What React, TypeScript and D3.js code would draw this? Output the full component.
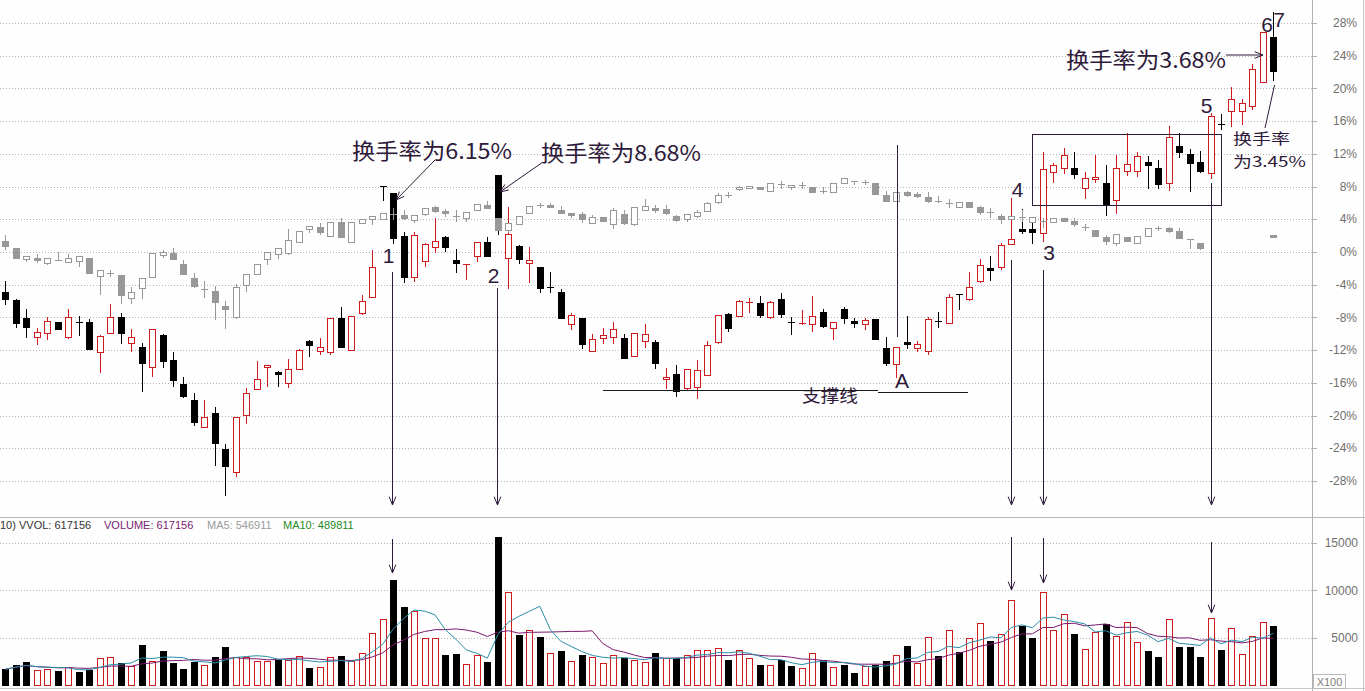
import React from 'react';
import * as d3 from 'd3';

// ---------- DATA (percent change for price; volume in x100 shares) ----------
const stockOpen = [
  -4.89,-5.87,-8.07,-10.43,-9.87,-8.60,-10.36,-8.50,-8.60,-12.27,
  -9.94,-7.99,-11.17,-11.66,-14.10,-10.15,-13.25,-16.14,-18.10,-21.44,
  -19.73,-24.13,-26.87,-19.97,-16.72,-14.01,-14.71,-16.06,-14.35,-10.88,
  -12.07,-12.19,-8.07,-11.99,-7.50,-5.54,8.07,7.18,1.96,-3.02,
  -1.06,0.57,1.80,-0.98,-1.63,-0.45,1.19,9.42,-0.77,0.73,
  -1.38,-1.87,-4.24,-4.93,-8.84,-8.11,-12.07,-10.55,-10.36,-10.55,
  -12.68,-10.85,-11.04,-15.57,-14.96,-16.67,-16.55,-15.04,-11.04,-7.58,
  -7.79,-6.27,-6.20,-7.95,-5.75,-8.60,-8.72,-8.84,-7.37,-9.33,
  -6.97,-8.44,-8.84,-8.19,-11.78,-13.73,-11.01,-11.70,-12.07,-8.38,
  -8.65,-5.17,-5.78,-3.55,-1.92,-1.87,0.94,2.81,2.78,2.29,
  9.82,10.24,10.24,7.79,8.93,8.48,6.36,9.91,9.91,10.97,
  10.24,8.40,13.00,11.95,10.97,9.63,15.59,17.24,17.24,17.89,
  20.75,26.26,
];
const stockHigh = [
  -3.55,-5.75,-6.97,-9.33,-7.99,-8.52,-6.97,-7.83,-8.23,-10.15,
  -6.40,-7.50,-9.42,-11.17,-9.45,-10.07,-12.23,-15.32,-17.28,-18.10,
  -18.99,-23.48,-20.22,-16.67,-13.33,-13.86,-14.55,-13.09,-11.86,-10.76,
  -10.52,-8.07,-6.73,-7.79,-5.26,0.24,8.07,7.22,2.48,2.41,
  1.14,4.12,1.96,0.37,-1.50,1.19,1.80,9.42,5.47,0.86,
  0.57,-1.87,-2.41,-4.56,-7.50,-8.11,-10.03,-9.33,-8.52,-10.03,
  -9.94,-8.81,-10.76,-14.22,-13.82,-14.31,-13.21,-10.85,-7.74,-7.42,
  -5.87,-5.66,-5.38,-6.03,-5.05,-7.91,-7.09,-5.38,-7.01,-8.60,
  -6.69,-8.11,-8.11,-8.19,-10.36,-11.58,-7.83,-10.88,-7.91,-7.37,
  -5.14,-5.17,-2.41,-0.89,-0.49,1.14,6.57,5.22,3.67,12.19,
  10.85,12.68,12.19,9.82,11.86,10.64,11.86,14.59,12.27,11.78,
  11.25,15.45,14.59,12.60,12.35,17.04,16.84,20.22,18.68,22.99,
  26.87,29.32,
];
const stockLow = [
  -6.36,-9.17,-10.36,-11.29,-10.60,-9.45,-10.48,-10.15,-11.83,-14.64,
  -9.94,-11.09,-12.07,-16.96,-15.17,-14.03,-16.35,-17.70,-21.16,-21.44,
  -26.05,-29.68,-27.36,-20.88,-16.79,-16.35,-16.35,-16.55,-14.35,-12.68,
  -12.47,-12.47,-11.58,-11.99,-7.62,-5.54,6.36,1.06,-3.71,-3.51,
  -1.68,0.04,0.16,-2.41,-3.34,-1.06,-0.45,2.16,-4.44,-1.31,
  -3.63,-4.86,-4.86,-8.11,-9.45,-11.78,-12.07,-11.17,-11.17,-12.93,
  -12.68,-11.58,-14.15,-16.67,-17.57,-16.88,-17.89,-15.04,-11.17,-9.66,
  -7.79,-7.30,-7.91,-8.04,-7.91,-10.03,-8.84,-9.66,-9.14,-10.64,
  -8.65,-9.14,-9.42,-10.64,-13.82,-15.25,-11.70,-12.07,-12.51,-9.14,
  -8.65,-6.97,-5.87,-3.63,-3.42,-2.12,0.94,2.29,1.10,1.35,
  8.60,9.63,9.01,6.64,8.60,4.53,4.73,9.42,9.29,7.79,
  7.79,7.58,11.66,7.50,9.82,9.01,15.01,15.41,15.65,17.49,
  20.75,21.04,
];
const stockClose = [
  -5.78,-8.72,-9.14,-9.82,-8.48,-9.38,-7.99,-8.56,-11.83,-10.27,
  -7.99,-9.94,-10.40,-13.61,-9.45,-13.33,-15.65,-17.61,-20.75,-20.22,
  -23.32,-26.14,-20.22,-17.28,-15.57,-13.86,-14.96,-14.35,-11.99,-11.41,
  -11.66,-8.07,-11.58,-7.86,-6.03,-1.87,8.07,1.71,-3.02,2.08,
  0.94,1.35,0.65,-1.38,-1.50,1.19,-0.45,2.69,2.16,-0.89,
  -0.98,-4.44,-4.32,-8.11,-7.70,-11.29,-10.64,-10.15,-9.42,-12.93,
  -9.94,-10.03,-13.54,-15.32,-17.00,-14.31,-14.43,-11.37,-7.74,-9.26,
  -6.03,-6.12,-7.67,-6.12,-7.58,-8.68,-8.65,-7.79,-9.05,-8.60,
  -8.04,-8.72,-8.32,-10.64,-13.54,-11.58,-11.25,-11.29,-8.23,-8.48,
  -5.54,-5.26,-4.24,-1.59,-2.20,0.86,1.59,2.60,2.45,10.11,
  10.60,11.86,9.54,9.09,9.21,5.75,10.31,10.73,11.74,10.64,
  8.28,14.10,12.19,10.85,9.94,16.63,15.47,18.68,18.19,22.38,
  26.87,22.17,
];

const N = null;
const indexOpen = [
  1.35,0.45,-0.82,-0.70,-1.31,-1.02,-1.26,-1.10,-0.77,-2.94,
  -2.57,-2.81,-5.66,-4.44,-3.02,-0.37,-0.09,-1.47,-3.22,-4.56,
  -4.73,-6.60,-7.91,-4.07,-2.73,-0.86,-0.24,-0.16,1.19,2.81,
  3.09,1.96,3.63,1.19,3.51,4.00,4.00,4.61,4.53,3.91,
  4.65,5.47,5.01,4.44,4.12,5.14,5.75,4.12,2.69,3.39,
  4.73,5.75,5.75,5.14,4.73,4.61,3.58,4.32,3.42,4.61,
  3.39,5.14,5.42,5.22,4.40,4.00,4.40,5.01,6.08,6.85,
  7.67,7.86,7.99,7.50,8.32,7.91,8.19,7.99,7.50,7.30,
  8.40,8.72,8.60,8.40,6.97,6.27,7.37,7.09,6.76,6.27,
  6.03,5.54,6.15,5.54,4.93,4.44,4.00,4.32,3.71,3.79,
  3.63,4.12,3.79,3.09,2.69,1.87,1.14,1.87,1.06,1.96,
  2.97,2.90,2.57,1.55,1.06,N,N,N,N,N,
  N,2.08,
];
const indexHigh = [
  2.08,0.45,-0.49,-0.24,-0.73,0.04,-0.24,-0.53,-0.77,-2.24,
  -2.20,-2.81,-4.32,-3.14,-0.16,0.24,0.45,-0.98,-2.60,-3.55,
  -4.16,-5.96,-3.91,-2.73,-1.47,-0.04,0.45,2.81,2.60,3.22,
  3.51,3.63,4.12,3.63,4.00,4.40,4.73,5.34,5.14,4.53,
  5.34,5.63,5.26,5.14,4.93,5.87,6.27,4.12,3.51,4.40,
  5.66,6.03,5.96,5.63,4.73,4.93,4.53,4.32,5.34,5.14,
  5.54,6.48,5.75,5.75,4.53,4.61,5.14,6.15,7.18,7.37,
  8.07,8.11,7.99,8.40,8.68,8.19,8.52,7.99,7.91,8.40,
  9.01,8.72,8.81,8.40,7.50,7.30,7.50,7.37,7.37,6.85,
  6.45,6.15,6.15,5.63,5.42,4.65,4.40,5.14,4.24,4.12,
  4.12,4.12,4.12,3.42,2.69,2.08,2.16,1.87,1.96,2.90,
  3.18,3.09,2.90,1.55,1.14,N,N,N,N,N,
  N,2.08,
];
const indexLow = [
  0.33,-0.70,-1.10,-1.26,-1.50,-1.02,-1.26,-1.68,-2.53,-5.14,
  -2.94,-6.27,-6.27,-5.66,-3.02,-0.57,-0.86,-2.69,-4.32,-5.47,
  -8.23,-9.33,-8.04,-4.77,-2.73,-1.47,-0.70,-0.24,1.19,2.48,
  2.20,1.96,1.80,1.19,3.51,3.42,4.00,4.04,4.00,3.71,
  4.49,4.93,4.40,3.83,3.79,5.14,5.34,2.69,2.48,3.39,
  4.73,5.47,5.50,4.73,4.24,3.71,3.51,3.83,2.97,3.42,
  3.30,5.14,4.93,4.65,3.83,3.83,4.24,5.01,5.96,6.76,
  7.58,7.86,7.67,7.50,7.79,7.67,7.79,7.30,7.18,7.30,
  8.40,8.28,8.32,7.09,6.27,6.27,6.85,6.69,6.15,6.15,
  5.47,5.47,5.47,4.65,4.24,3.58,4.00,3.83,3.71,3.09,
  3.63,3.83,3.18,2.69,1.96,0.98,0.86,1.35,1.06,1.96,
  2.69,2.48,1.68,0.45,0.33,N,N,N,N,N,
  N,1.87,
];
const indexClose = [
  0.73,-0.70,-0.49,-1.02,-0.73,-1.02,-0.77,-0.53,-2.53,-2.24,
  -2.57,-5.22,-4.86,-3.14,-0.16,0.04,-0.86,-2.69,-4.16,-4.56,
  -6.08,-7.01,-4.24,-2.73,-1.47,-0.04,0.45,1.47,2.60,3.22,
  2.41,3.63,1.80,3.63,4.00,4.40,4.73,4.61,4.12,4.53,
  5.34,5.05,4.81,4.44,4.93,5.87,5.34,2.69,3.51,4.40,
  5.66,5.75,5.54,4.81,4.53,4.00,4.24,3.83,5.14,3.51,
  5.54,5.63,5.14,4.73,3.91,4.61,4.93,5.96,6.97,6.91,
  7.99,8.11,7.67,8.40,8.32,8.19,8.19,7.30,7.50,8.40,
  9.01,8.72,8.60,7.09,6.27,7.30,6.97,6.89,6.27,6.27,
  6.03,6.15,5.47,4.93,4.93,4.04,4.40,4.32,4.24,3.79,
  4.12,3.83,3.39,3.09,1.96,1.38,2.16,1.35,1.96,2.90,
  2.97,2.60,1.75,1.55,0.53,N,N,N,N,N,
  N,1.87,
];

const volume = [
  1660,2114,2396,1585,1656,1480,1937,1409,1585,2818,
  2924,2290,2008,4228,2537,3594,2360,1691,2466,2114,
  2960,4017,2995,2960,2537,2537,2642,2642,3100,1832,
  1937,2995,3065,2572,3347,5461,6940,11100,8210,7857,
  4932,4932,3171,3277,2185,3171,2396,15610,9794,5285,
  5814,5074,3347,3594,2537,3171,2995,2360,3136,2818,
  2642,2431,3347,2818,2818,3136,3664,3664,3876,2677,
  3664,2854,2114,2114,2642,2043,1832,3347,2642,1937,
  2114,1303,2008,2114,2537,3136,4122,2360,5038,3065,
  5814,3453,4932,6517,4651,5355,8950,6271,5003,9794,
  5814,7470,5391,3805,5567,6412,5180,6623,4510,3594,
  2960,6940,4017,4017,2960,7046,3700,5990,3242,5214,
  6623,6236,
];
// 1 = rising day (red hollow bar), 0 = falling day (black bar)
const volumeUp = [
  0,0,0,1,1,0,1,0,0,1, 1,0,1,0,1,0,0,0,0,1,
  0,0,1,1,1,1,0,1,1,0, 1,1,0,1,1,1,1,0,0,1,
  1,1,0,0,1,1,0,0,1,0, 1,0,1,0,1,0,1,1,1,0,
  1,1,0,1,0,1,1,1,1,0, 1,1,0,1,0,0,1,1,0,1,
  0,0,1,0,0,1,0,1,1,0, 1,0,1,1,0,1,1,0,0,1,
  1,1,0,1,1,0,1,1,1,0, 0,1,0,0,0,1,0,1,1,1,
  1,0,
];

const pctTicks = [28, 24, 20, 16, 12, 8, 4, 0, -4, -8, -12, -16, -20, -24, -28];
const volTicks = [15000, 10000, 5000];

// ---------- LAYOUT ----------
const W = 1365, H = 691;
const AXIS_X = 1312;
const RED = '#d01a1e';
const BLK = '#000000';
const GRAY = '#989898';
const ANN = '#2e1a3a';
const GRID = '#b4b4b4';

const x = d3.scaleLinear().domain([0, 121]).range([5.3, 1273.4]);
const y = d3.scaleLinear().domain([-28, 28]).range([481, 23]);
const yv = d3.scaleLinear().domain([0, 15000]).range([685, 543]);

const movingAvg = (n: number) =>
  volume.map((_, i) => d3.mean(volume.slice(Math.max(0, i - n + 1), i + 1)) as number);
const ma5 = movingAvg(5);
const ma10 = movingAvg(10);

type CandleProps = { i: number; o: number; h: number; l: number; c: number; up: string; down: string; flat: string };

function Candle({ i, o, h, l, c, up, down, flat }: CandleProps) {
  const cx = Math.round(x(i)) + 0.5;
  const top = Math.round(y(Math.max(o, c)));
  const bot = Math.round(y(Math.min(o, c)));
  const yh = Math.round(y(h));
  const yl = Math.round(y(l));
  const isUp = c > o;
  const isDown = c < o;
  const col = isUp ? up : isDown ? down : flat;
  const bodyH = bot - top;
  return (
    <g>
      <line x1={cx} x2={cx} y1={yh} y2={yl + 1} stroke={col} strokeWidth={1} />
      {bodyH < 2 ? (
        <rect x={cx - 3.5} y={top} width={7} height={Math.max(1, bodyH)} fill={col} />
      ) : isUp ? (
        <rect x={cx - 3} y={top + 0.5} width={6} height={bodyH} fill="#ffffff" stroke={col} strokeWidth={1} />
      ) : (
        <rect x={cx - 3.5} y={top} width={7} height={bodyH + 1} fill={col} />
      )}
    </g>
  );
}

function Arrow({ x1, y1, x2, y2, head = true }: { x1: number; y1: number; x2: number; y2: number; head?: boolean }) {
  const ang = Math.atan2(y2 - y1, x2 - x1);
  const L = 9, a = 0.38;
  const p1 = [x2 - L * Math.cos(ang - a), y2 - L * Math.sin(ang - a)];
  const p2 = [x2 - L * Math.cos(ang + a), y2 - L * Math.sin(ang + a)];
  return (
    <g stroke={ANN} strokeWidth={1} fill="none">
      <line x1={x1} y1={y1} x2={x2} y2={y2} />
      {head && <polyline points={`${p1[0]},${p1[1]} ${x2},${y2} ${p2[0]},${p2[1]}`} />}
    </g>
  );
}

export default function App() {
  const volLine = d3.line<number>().x((_, i) => x(i)).y((d) => yv(d));
  const cjk = '"Noto Sans CJK SC", "Noto Sans", sans-serif';
  const latin = '"Liberation Sans", Arial, sans-serif';
  return (
    <div style={{ position: 'absolute', left: 0, top: 0, width: W, height: H, background: '#fff' }}>
      <svg width={W} height={H} style={{ display: 'block' }}>
        <rect x={0} y={0} width={W} height={H} fill="#fefefe" />
        {/* grid */}
        {pctTicks.map((t) => (
          <line key={'g' + t} x1={0} x2={AXIS_X} y1={Math.round(y(t)) + 0.5} y2={Math.round(y(t)) + 0.5}
            stroke={GRID} strokeDasharray="1,2" />
        ))}
        {volTicks.map((t) => (
          <line key={'v' + t} x1={0} x2={AXIS_X} y1={Math.round(yv(t)) + 0.5} y2={Math.round(yv(t)) + 0.5}
            stroke={GRID} strokeDasharray="1,2" />
        ))}
        {/* frame */}
        <line x1={AXIS_X + 0.5} x2={AXIS_X + 0.5} y1={0} y2={H} stroke="#b0b0b0" />
        <line x1={W - 1.5} x2={W - 1.5} y1={0} y2={H} stroke="#c8c8c8" />
        <line x1={0} x2={W} y1={517.5} y2={517.5} stroke="#b8b8b8" />
        <line x1={0} x2={W} y1={688.5} y2={688.5} stroke="#c8c8c8" />
        {/* right axis labels */}
        {pctTicks.map((t) => (
          <g key={'t' + t}>
            <line x1={AXIS_X} x2={AXIS_X + 5} y1={Math.round(y(t)) + 0.5} y2={Math.round(y(t)) + 0.5} stroke="#b0b0b0" />
            <text x={1357} y={y(t)} dy="0.35em" textAnchor="end" fontFamily={latin} fontSize={12} fill="#707070">
              {t + '%'}
            </text>
          </g>
        ))}
        {volTicks.map((t) => (
          <g key={'vt' + t}>
            <line x1={AXIS_X} x2={AXIS_X + 5} y1={Math.round(yv(t)) + 0.5} y2={Math.round(yv(t)) + 0.5} stroke="#b0b0b0" />
            <text x={1358} y={yv(t)} dy="0.35em" textAnchor="end" fontFamily={latin} fontSize={12} fill="#707070">
              {t}
            </text>
          </g>
        ))}
        <rect x={1313.5} y={674.5} width={32} height={14} fill="#fff" stroke="#b8b8b8" />
        <text x={1329.5} y={685.5} textAnchor="middle" fontFamily={latin} fontSize={11} fill="#808080">X100</text>

        {/* stock candles */}
        {stockOpen.map((o, i) => (
          <Candle key={'s' + i} i={i} o={o} h={stockHigh[i]} l={stockLow[i]} c={stockClose[i]}
            up={RED} down={BLK} flat={BLK} />
        ))}
        {/* index candles (gray, drawn over) */}
        {indexOpen.map((o, i) =>
          o === null ? null : (
            <Candle key={'x' + i} i={i} o={o} h={indexHigh[i] as number} l={indexLow[i] as number}
              c={indexClose[i] as number} up={GRAY} down={GRAY} flat={GRAY} />
          )
        )}

        {/* volume bars */}
        {volume.map((v, i) => {
          const cx = Math.round(x(i)) + 0.5;
          const top = Math.round(yv(v));
          const base = 685;
          return volumeUp[i] ? (
            <rect key={'vb' + i} x={cx - 3} y={top + 0.5} width={6} height={base - top} fill="#fff" stroke={RED} />
          ) : (
            <rect key={'vb' + i} x={cx - 3.5} y={top} width={7} height={base - top + 1} fill={BLK} />
          );
        })}
        <path d={volLine(ma10) || ''} fill="none" stroke="#7c1a6e" strokeWidth={1} />
        <path d={volLine(ma5) || ''} fill="none" stroke="#2a8fa8" strokeWidth={1} />

        {/* volume header */}
        <g fontFamily={latin} fontSize={11}>
          <text x={0} y={529} fill="#333">10) VVOL: 617156</text>
          <text x={104} y={529} fill="#7a1a70">VOLUME: 617156</text>
          <text x={207} y={529} fill="#9a9a9a">MA5: 546911</text>
          <text x={283} y={529} fill="#1f8a1f">MA10: 489811</text>
        </g>

        {/* annotations */}
        <g fontFamily={cjk} fill={ANN}>
          <text x={352} y={159} fontSize={22} textLength={160} lengthAdjust="spacingAndGlyphs">换手率为6.15%</text>
          <text x={541} y={161} fontSize={22} textLength={160} lengthAdjust="spacingAndGlyphs">换手率为8.68%</text>
          <text x={1066} y={68} fontSize={22} textLength={160} lengthAdjust="spacingAndGlyphs">换手率为3.68%</text>
          <text x={1233} y={144} fontSize={15} textLength={57} lengthAdjust="spacingAndGlyphs">换手率</text>
          <text x={1233} y={167} fontSize={15} textLength={73} lengthAdjust="spacingAndGlyphs">为3.45%</text>
          <text x={802} y={402} fontSize={17} textLength={56} lengthAdjust="spacingAndGlyphs">支撑线</text>
        </g>
        <g fontFamily={latin} fill={ANN} fontSize={21} textAnchor="middle">
          <text x={388.5} y={263}>1</text>
          <text x={493.5} y={283}>2</text>
          <text x={902} y={388}>A</text>
          <text x={1017.5} y={197}>4</text>
          <text x={1049} y={260}>3</text>
          <text x={1206.5} y={113}>5</text>
          <text x={1267} y={32}>6</text>
          <text x={1279} y={27}>7</text>
        </g>

        {/* leader lines */}
        <Arrow x1={435} y1={160} x2={396} y2={200} />
        <Arrow x1={543} y1={162} x2={500} y2={192} />
        <Arrow x1={1226} y1={55} x2={1263} y2={55} />
        <Arrow x1={1265} y1={128} x2={1274.5} y2={85} head={false} />

        {/* vertical markers */}
        <Arrow x1={392.5} y1={272} x2={392.5} y2={505} />
        <Arrow x1={497.5} y1={288} x2={497.5} y2={505} />
        <Arrow x1={897.5} y1={145} x2={897.5} y2={337} head={false} />
        <Arrow x1={1011.5} y1={260} x2={1011.5} y2={505} />
        <Arrow x1={1043.5} y1={270} x2={1043.5} y2={505} />
        <Arrow x1={1211.5} y1={183} x2={1211.5} y2={505} />

        <Arrow x1={392.5} y1={539} x2={392.5} y2={573} />
        <Arrow x1={1011.5} y1={537} x2={1011.5} y2={590} />
        <Arrow x1={1043.5} y1={538} x2={1043.5} y2={583} />
        <Arrow x1={1211.5} y1={542} x2={1211.5} y2={613} />

        {/* box around consolidation */}
        <rect x={1032.5} y={134.5} width={189} height={71} fill="none" stroke={ANN} />

        {/* support line */}
        <line x1={603} x2={878} y1={390.5} y2={390.5} stroke="#1a1a1a" />
        <line x1={878} x2={968} y1={392.5} y2={392.5} stroke="#1a1a1a" />
      </svg>
    </div>
  );
}
